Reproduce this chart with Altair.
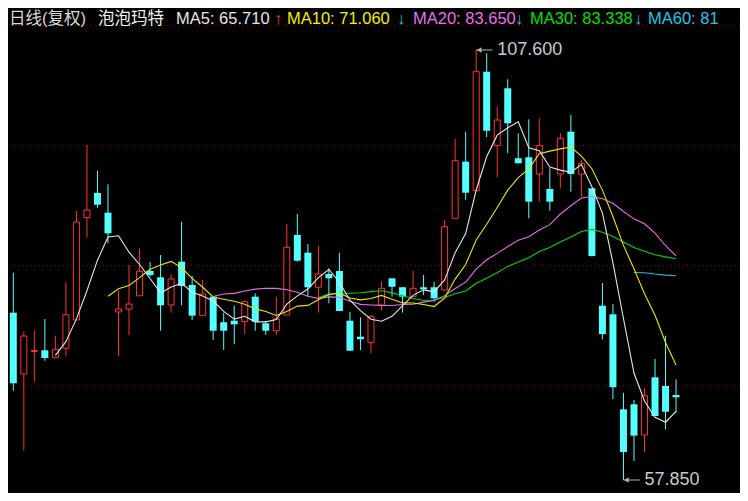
import altair as alt
import pandas as pd

# ---- data ----
idx = list(range(64))
opens = [77.21, 70.11, 72.72, 72.86, 72.00, 73.09, 76.36, 88.20, 91.06, 88.78,
         77.29, 77.63, 79.16, 82.05, 81.30, 78.10, 83.11, 80.41, 76.86, 79.06,
         76.10, 76.28, 76.17, 79.06, 75.98, 75.12, 76.94, 86.20, 84.15, 80.15,
         81.68, 82.03, 76.28, 74.43, 73.74, 78.10, 81.19, 80.15, 79.06, 80.15,
         80.15, 79.83, 88.13, 94.68, 91.32, 105.09, 96.53, 103.17, 95.07, 95.19,
         93.25, 91.52, 93.25, 98.15, 93.25, 91.60, 78.02, 77.02, 66.03, 66.61,
         63.06, 69.73, 68.73, 67.68]
highs = [81.83, 75.01, 75.09, 76.48, 74.55, 80.79, 88.97, 96.61, 93.64, 92.06,
         79.75, 82.73, 84.63, 83.07, 83.88, 81.65, 87.73, 81.45, 80.99, 79.06,
         77.21, 78.02, 78.59, 79.45, 76.25, 79.06, 87.47, 88.63, 85.15, 84.96,
         82.34, 84.15, 77.32, 76.67, 76.94, 80.79, 81.19, 80.15, 82.07, 81.57,
         80.79, 87.93, 97.30, 98.15, 107.60, 107.22, 101.04, 104.21, 97.96, 99.58,
         99.70, 93.91, 97.96, 100.08, 94.87, 91.60, 80.64, 78.21, 67.95, 67.11,
         68.46, 71.85, 74.55, 69.50]
lows = [68.18, 61.24, 69.22, 71.65, 72.00, 72.20, 76.36, 85.88, 89.35, 85.24,
        72.20, 74.63, 79.16, 81.39, 75.12, 77.21, 78.06, 76.36, 76.86, 74.05,
        72.89, 73.55, 74.74, 75.12, 74.63, 74.63, 76.94, 83.11, 79.06, 77.21,
        78.29, 77.40, 72.81, 72.89, 72.51, 77.44, 79.06, 77.21, 79.06, 79.25,
        78.48, 79.83, 88.13, 90.25, 91.32, 97.53, 92.87, 95.65, 94.49, 88.13,
        90.05, 89.01, 91.60, 91.21, 90.63, 83.69, 74.13, 67.19, 57.85, 60.05,
        61.05, 65.25, 63.72, 65.64]
closes = [69.04, 74.51, 72.83, 71.97, 72.97, 76.97, 87.70, 89.09, 89.70, 86.39,
          77.63, 78.21, 82.00, 81.57, 78.06, 81.11, 80.30, 76.86, 79.37, 75.12,
          75.12, 75.86, 78.48, 76.17, 75.12, 76.48, 84.77, 83.22, 80.15, 81.68,
          81.19, 77.40, 72.81, 74.13, 76.74, 80.03, 80.21, 79.06, 80.03, 79.91,
          78.87, 87.16, 94.79, 91.09, 105.09, 98.26, 99.50, 99.12, 94.49, 90.05,
          96.53, 90.05, 97.38, 93.25, 94.49, 83.77, 74.74, 68.58, 61.09, 62.98,
          67.60, 65.25, 65.75, 67.42]
grid_levels = [68.76, 82.67, 96.57, 110.46]
ma_periods = [60, 30, 20, 10, 5]
header_texts = ["日线(复权)", "泡泡玛特", "MA5: 65.710", "↑", "MA10: 71.060", "↓",
                "MA20: 83.650", "↓", "MA30: 83.338", "↓", "MA60: 81"]

# ---- styling ----
RED = "#ff3232"
CYAN = "#54ffff"
GRID = "#a00000"
FONT = "Liberation Sans, Noto Sans CJK SC, sans-serif"
ma_colors = {5: "#e6e6e6", 10: "#e8e800", 20: "#e86ce8", 30: "#00d400", 60: "#1ec0e0"}
header_x = [0, 89, 167, 265, 278, 388, 404, 506, 521, 625, 639]
header_colors = ["#d8d8d8", "#f0f0f0", "#e6e6e6", RED, "#f0f000", "#30c8e8",
                 "#e870e8", "#30c8e8", "#00e000", "#30c8e8", "#20c8e8"]

df = pd.DataFrame({"i": idx, "open": opens, "high": highs, "low": lows, "close": closes})
dummy = pd.DataFrame({"a": [0]})

xs = alt.Scale(domain=[-0.5038, 69.078], nice=False, zero=False, padding=0)
ys = alt.Scale(domain=[56.346, 112.459], nice=False, zero=False, padding=0)
X = alt.X("i:Q", scale=xs, axis=None)

base = alt.Chart(df).transform_calculate(up="datum.close >= datum.open")

grid = alt.Chart(pd.DataFrame({"v": grid_levels})).mark_rule(
    color=GRID, strokeDash=[1, 3], strokeWidth=1
).encode(y=alt.Y("v:Q", scale=ys, axis=None))

wicks = base.mark_rule(strokeWidth=1).encode(
    x=X,
    y=alt.Y("low:Q", scale=ys, axis=None),
    y2="high:Q",
    color=alt.condition("datum.up", alt.value(RED), alt.value(CYAN)),
)
down_bodies = base.transform_filter("!datum.up").mark_bar(size=7, color=CYAN).encode(
    x=X, y=alt.Y("open:Q", scale=ys, axis=None), y2="close:Q"
)
up_bodies = base.transform_filter("datum.up").mark_bar(
    size=6, fill="black", stroke=RED, strokeWidth=1
).encode(x=X, y=alt.Y("open:Q", scale=ys, axis=None), y2="close:Q")

ma_layers = []
for n in ma_periods:
    ma_layers.append(
        alt.Chart(df)
        .transform_window(ma="mean(close)", frame=[-(n - 1), 0], sort=[alt.SortField("i")])
        .transform_filter(f"datum.i >= {n - 1}")
        .mark_line(color=ma_colors[n], strokeWidth=1.1)
        .encode(x=X, y=alt.Y("ma:Q", scale=ys, axis=None))
    )

# extreme labels
imax = highs.index(max(highs))
imin = lows.index(min(lows))
ext = pd.DataFrame({"i": [imax, imin], "v": [max(highs), min(lows)]})
ext_base = alt.Chart(ext).transform_calculate(i2="datum.i + 1.55")
ext_rule = ext_base.mark_rule(color="#b4b4b4", strokeWidth=1).encode(
    x=X, x2="i2:Q", y=alt.Y("v:Q", scale=ys, axis=None)
)
ext_head = ext_base.mark_point(shape="triangle-left", filled=True, size=28, color="#b4b4b4",
                               opacity=1, xOffset=3).encode(
    x=X, y=alt.Y("v:Q", scale=ys, axis=None)
)
ext_text = ext_base.mark_text(align="left", baseline="middle", dx=21, font=FONT,
                              fontSize=18, color="#c8c8d0").encode(
    x=X, y=alt.Y("v:Q", scale=ys, axis=None), text=alt.Text("v:Q", format=".3f")
)

# header
header_layers = []
for t, xp, c in zip(header_texts, header_x, header_colors):
    header_layers.append(
        alt.Chart(dummy).mark_text(text=t, color=c, font=FONT, fontSize=16.5,
                                   align="left", baseline="alphabetic")
        .encode(x=alt.value(xp + 1), y=alt.value(16))
    )

chart = alt.layer(
    grid, wicks, down_bodies, up_bodies, *ma_layers, ext_rule, ext_head, ext_text,
    *header_layers
).properties(
    width=732, height=485, background="black", padding=0,
    autosize=alt.AutoSizeParams(type="none"),
).configure_view(strokeWidth=0)

chart.save("out.html", embed_options={"renderer": "svg", "actions": False})
